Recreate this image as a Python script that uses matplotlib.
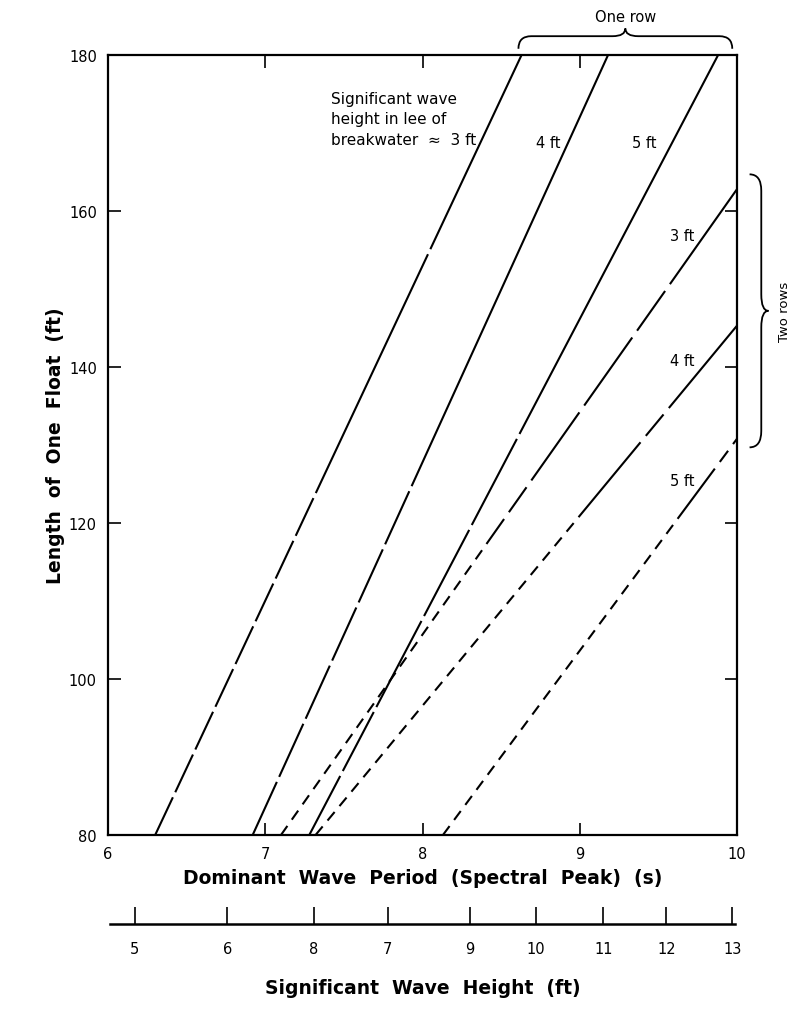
import matplotlib.pyplot as plt
import numpy as np
from matplotlib.path import Path
from matplotlib.patches import PathPatch

plt.rcParams['font.family'] = ['DejaVu Sans']
plt.rcParams['lines.scale_dashes'] = False

# float length (ft) vs dominant wave period (s)
wave_labels = ['3 ft', '4 ft', '5 ft']

# one row: period where each line meets L = 80 ft and L = 180 ft
one_row_T80 = [6.30, 6.92, 7.28]
one_row_T180 = [8.63, 9.18, 9.88]

# two rows: period at L = 80 ft, and length reached at T = 10 s
two_row_T80 = [7.10, 7.32, 8.13]
two_row_L10 = [162.8, 145.3, 130.8]

y_ticks = [80, 100, 120, 140, 160, 180]
x_ticks = [6, 7, 8, 9, 10]

# lower scale: significant wave height vs. period position
height_ticks = [6.17, 6.76, 7.31, 7.78, 8.30, 8.72, 9.15, 9.55, 9.97]
height_labels = ['5', '6', '8', '7', '9', '10', '11', '12', '13']


def dash_seq(parts):
    # parts: list of (on, off, count); ends with a long solid run
    seq = []
    for on, off, n in parts:
        seq += [on, off] * n
    return seq + [2000, 1]


one_row_dashes = [
    dash_seq([(30, 4, 8), (190, 4, 1)]),
    dash_seq([(42, 4, 6)]),
    dash_seq([(48, 4, 2), (70, 4, 3)]),
]
two_row_dashes = [
    dash_seq([(8, 5.5, 19), (22, 6, 2), (60, 6, 2), (35, 6, 1)]),
    dash_seq([(8, 5.5, 22), (70, 6, 1), (20, 6, 1)]),
    dash_seq([(8, 5.5, 21), (45, 6, 1), (10, 6, 2)]),
]


def draw(ax, xs, ys, seq):
    # agg only keeps a few dash pairs, so draw the pattern in chunks
    start = 0
    for k in range(0, len(seq), 24):
        chunk = seq[k:k + 24]
        dashes = [0, start] + chunk + [0, 5000] if start else chunk + [0, 5000]
        ax.plot(xs, ys, color='black', lw=1.5, dashes=dashes,
                dash_capstyle='butt')
        start += sum(chunk)


fig = plt.figure(figsize=(7.95, 10.2), dpi=100)
ax = fig.add_axes([108 / 795, 1 - 836 / 1020, 629 / 795, 780 / 1020])

for i in range(3):
    draw(ax, [one_row_T80[i], one_row_T180[i]], [80, 180], one_row_dashes[i])
    draw(ax, [two_row_T80[i], 10], [80, two_row_L10[i]], two_row_dashes[i])

ax.set_xlim(6, 10)
ax.set_ylim(80, 180)
ax.set_xticks(x_ticks)
ax.set_yticks(y_ticks)
ax.tick_params(direction='in', length=9, width=1.2, labelsize=10.5,
               top=True, right=True, pad=8)
for s in ax.spines.values():
    s.set_linewidth(1.6)

ax.set_xlabel('Dominant  Wave  Period  (Spectral  Peak)  (s)',
              fontsize=13.5, fontweight='bold', labelpad=5)
ax.set_ylabel('Length  of  One  Float  (ft)', fontsize=13.5,
              fontweight='bold', labelpad=3)

# labels on the curves
ax.text(7.42, 171.8, 'Significant wave\nheight in lee of\nbreakwater  \u2248  3 ft',
        fontsize=11, va='center', ha='left', linespacing=1.45)
for x, lab in zip([8.80, 9.41], wave_labels[1:]):
    ax.text(x, 168.8, lab, fontsize=10.5, ha='center', va='center')
for y, lab in zip([156.9, 140.8, 125.4], wave_labels):
    ax.text(9.65, y, lab, fontsize=10.5, ha='center', va='center')


def brace(x0, x1, y0, h, vertical=False):
    L = x1 - x0
    pts = [(0, 0), (0, 0.62 * h), (0.06 * L, 0.62 * h),
           (0.44 * L, 0.62 * h), (0.5 * L, 0.62 * h), (0.5 * L, h),
           (0.5 * L, 0.62 * h), (0.56 * L, 0.62 * h),
           (0.94 * L, 0.62 * h), (L, 0.62 * h), (L, 0)]
    codes = [Path.MOVETO, Path.CURVE3, Path.CURVE3, Path.LINETO,
             Path.CURVE3, Path.CURVE3, Path.CURVE3, Path.CURVE3,
             Path.LINETO, Path.CURVE3, Path.CURVE3]
    if vertical:
        verts = [(y0 + v, x0 + u) for u, v in pts]
    else:
        verts = [(x0 + u, y0 + v) for u, v in pts]
    ax.add_patch(PathPatch(Path(verts, codes), fill=False, lw=1.3,
                           color='black', clip_on=False))


brace(8.61, 9.97, 180.8, 2.6)
ax.text(9.29, 185.0, 'One row', fontsize=10.5, ha='center', va='center')
brace(129.7, 164.7, 10.08, 0.12, vertical=True)
ax.text(10.30, 147.2, 'Two rows', fontsize=9.5, ha='center', va='center',
        rotation=90, clip_on=False)

# second scale below
ax2 = fig.add_axes([110 / 795, 1 - 925 / 1020, 625 / 795, 0.0001])
ax2.set_xlim(6.013, 9.987)
for k in ['top', 'left', 'right']:
    ax2.spines[k].set_visible(False)
ax2.spines['bottom'].set_linewidth(1.8)
ax2.set_yticks([])
ax2.set_xticks(height_ticks)
ax2.set_xticklabels(height_labels)
ax2.tick_params(axis='x', direction='in', length=12, width=1.2,
                labelsize=10.5, pad=12)
ax2.set_xlabel('Significant  Wave  Height  (ft)', fontsize=13.5,
               fontweight='bold', labelpad=16)

fig.savefig('out.png', dpi=100)
